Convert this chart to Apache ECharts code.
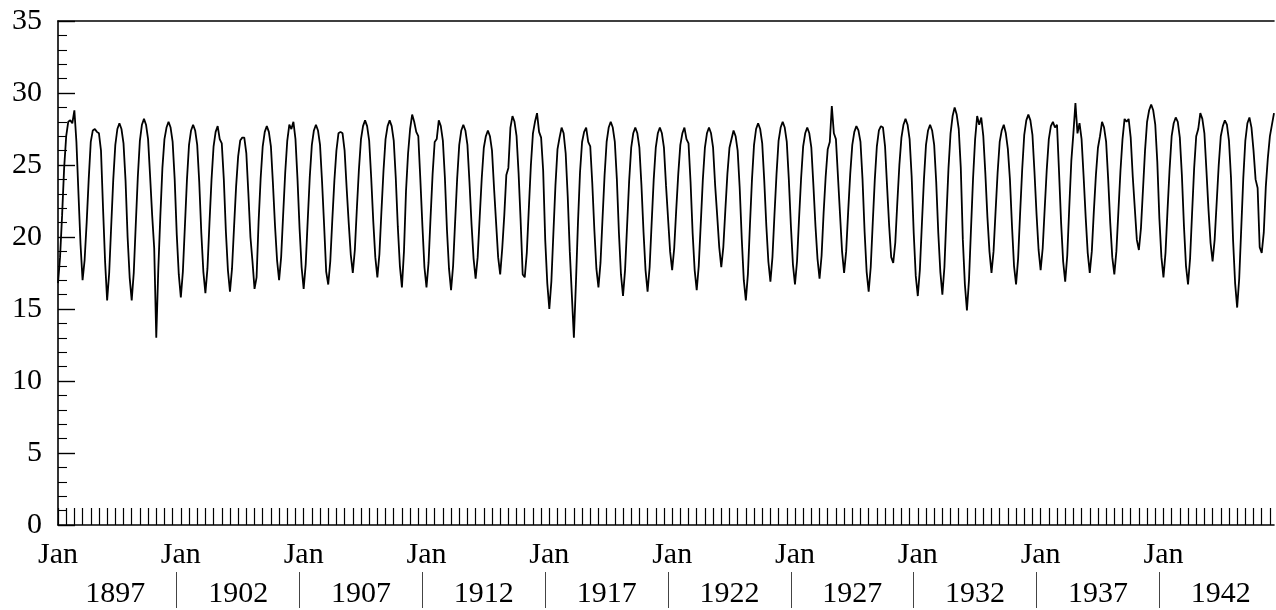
<!DOCTYPE html>
<html><head><meta charset="utf-8">
<script src="https://cdn.jsdelivr.net/npm/echarts@6/dist/echarts.min.js"></script>
<style>html,body{margin:0;padding:0;background:#fff}#c{width:1276px;height:610px}</style>
</head><body><div id="c"></div>
<script>
// Monthly values, Jan 1897 .. Jul 1946
const temps1897to1906 = [
  16.8, 18.6, 21.5, 24.8, 27.0, 28.0, 28.1, 27.9, 28.8, 26.6, 23.0, 19.5,
  17.0, 18.4, 21.0, 24.0, 26.6, 27.4, 27.5, 27.3, 27.2, 26.0, 22.0, 18.3,
  15.6, 17.5, 20.8, 24.0, 26.4, 27.5, 27.9, 27.5, 26.5, 23.9, 20.0, 17.2,
  15.6, 17.5, 20.9, 24.2, 26.7, 27.8, 28.2, 27.8, 26.8, 24.2, 21.5, 19.2,
  13.0, 17.8, 21.5, 24.8, 26.8, 27.6, 28.0, 27.6, 26.6, 24.0, 20.2, 17.4,
  15.8, 17.6, 20.8, 24.0, 26.4, 27.4, 27.8, 27.4, 26.4, 23.8, 20.3, 17.6,
  16.1, 17.8, 21.0, 24.0, 26.3, 27.3, 27.7, 26.8, 26.5, 24.0, 20.4, 17.7,
  16.2, 17.8, 20.7, 23.5, 25.6, 26.7, 26.9, 26.9, 25.8, 23.0, 20.0, 18.3,
  16.4, 17.2, 21.1, 24.1, 26.3, 27.3, 27.7, 27.3, 26.3, 23.7, 20.8, 18.4,
  17.0, 18.6, 21.6, 24.5, 26.7, 27.8, 27.5, 28.0, 26.8, 24.0, 20.6, 17.9
];
const temps1907to1916 = [
  16.4, 18.1, 21.2, 24.2, 26.4, 27.4, 27.8, 27.4, 26.4, 23.8, 20.8, 17.6,
  16.7, 18.3, 21.2, 23.9, 26.0, 27.2, 27.3, 27.2, 26.0, 23.4, 21.0, 18.8,
  17.5, 19.1, 22.0, 24.7, 26.8, 27.7, 28.1, 27.7, 26.7, 24.1, 21.1, 18.6,
  17.2, 18.8, 21.8, 24.6, 26.8, 27.7, 28.1, 27.7, 26.7, 24.1, 20.7, 18.0,
  16.5, 19.0, 23.2, 25.8, 27.5, 28.5, 28.0, 27.3, 27.0, 24.0, 20.8, 17.9,
  16.5, 18.2, 21.4, 24.4, 26.6, 26.8, 28.1, 27.7, 26.7, 24.1, 20.5, 17.8,
  16.3, 18.0, 21.1, 24.1, 26.4, 27.4, 27.8, 27.4, 26.4, 23.8, 20.9, 18.5,
  17.1, 18.6, 21.4, 24.1, 26.2, 27.0, 27.4, 27.0, 26.0, 23.4, 21.0, 18.6,
  17.4, 19.2, 21.5, 24.3, 24.8, 27.6, 28.4, 28.0, 27.0, 24.4, 21.1, 17.4,
  17.2, 18.9, 22.0, 25.0, 27.2, 28.0, 28.6, 27.3, 26.9, 24.6, 19.8, 16.8
];
const temps1917to1926 = [
  15.0, 16.9, 20.3, 23.6, 26.1, 26.9, 27.6, 27.2, 25.8, 22.8, 19.0, 16.0,
  13.0, 16.8, 21.0, 24.5, 26.6, 27.3, 27.6, 26.6, 26.3, 23.7, 20.5, 17.8,
  16.5, 18.2, 21.3, 24.3, 26.6, 27.6, 28.0, 27.6, 26.6, 24.0, 20.3, 17.4,
  15.9, 17.7, 20.8, 23.9, 26.2, 27.2, 27.6, 27.2, 26.2, 23.6, 20.4, 17.7,
  16.2, 17.9, 21.0, 24.0, 26.2, 27.2, 27.6, 27.2, 26.2, 23.6, 21.3, 19.0,
  17.7, 19.2, 21.9, 24.4, 26.4, 27.2, 27.6, 26.8, 26.5, 23.8, 20.3, 17.7,
  16.3, 18.0, 21.0, 24.0, 26.2, 27.2, 27.6, 27.2, 26.2, 23.6, 21.5, 19.3,
  17.9, 19.3, 21.9, 24.4, 26.2, 26.8, 27.4, 27.0, 26.0, 23.4, 19.9, 17.0,
  15.6, 17.4, 20.8, 24.0, 26.4, 27.5, 27.9, 27.5, 26.5, 23.9, 20.8, 18.3,
  16.9, 18.6, 21.6, 24.4, 26.7, 27.6, 28.0, 27.6, 26.6, 24.0, 20.8, 18.1
];
const temps1927to1936 = [
  16.7, 18.3, 21.3, 24.1, 26.3, 27.2, 27.6, 27.2, 26.2, 23.6, 20.8, 18.5,
  17.1, 18.7, 21.7, 24.2, 26.1, 26.6, 29.1, 27.2, 26.8, 24.2, 21.6, 19.0,
  17.5, 19.0, 21.8, 24.4, 26.4, 27.3, 27.7, 27.4, 26.6, 24.0, 20.4, 17.6,
  16.2, 17.9, 21.0, 24.0, 26.3, 27.4, 27.7, 27.6, 26.3, 23.5, 20.8, 18.6,
  18.2, 19.6, 22.4, 25.0, 26.9, 27.8, 28.2, 27.8, 26.8, 24.2, 20.3, 17.3,
  15.9, 17.7, 20.9, 24.0, 26.4, 27.4, 27.8, 27.4, 26.4, 23.8, 20.3, 17.6,
  16.0, 17.9, 21.5, 24.8, 27.2, 28.4, 29.0, 28.5, 27.5, 24.8, 19.8, 16.7,
  14.9, 17.0, 20.6, 24.1, 26.8, 28.4, 27.8, 28.3, 27.0, 24.4, 21.4, 19.0,
  17.5, 19.0, 21.8, 24.5, 26.6, 27.4, 27.8, 27.2, 26.1, 24.0, 20.8, 18.0,
  16.7, 18.5, 21.7, 24.7, 27.1, 28.1, 28.5, 28.1, 27.1, 24.5, 21.6, 19.1
];
const temps1937to1946 = [
  17.7, 19.2, 22.0, 24.7, 26.8, 27.7, 28.0, 27.6, 27.8, 24.5, 21.0, 18.3,
  16.9, 18.7, 22.1, 25.3, 27.2, 29.3, 27.2, 27.9, 26.8, 24.2, 21.4, 18.9,
  17.5, 19.0, 21.8, 24.3, 26.2, 27.0, 28.0, 27.6, 26.6, 24.0, 21.0, 18.6,
  17.4, 19.0, 21.8, 24.6, 26.8, 28.2, 28.0, 28.2, 26.9, 24.2, 22.0, 19.8,
  19.1, 20.6, 23.3, 26.0, 28.0, 28.8, 29.2, 28.8, 27.8, 25.2, 21.3, 18.6,
  17.2, 18.9, 21.9, 24.7, 27.0, 27.9, 28.3, 28.0, 26.9, 24.3, 20.8, 18.0,
  16.7, 18.5, 21.7, 24.8, 27.0, 27.5, 28.6, 28.2, 27.2, 24.6, 21.9, 19.6,
  18.3, 19.8, 22.4, 25.0, 27.0, 27.7, 28.1, 27.8, 26.7, 24.1, 19.8, 16.8,
  15.1, 17.1, 20.6, 24.1, 26.7, 27.9, 28.3, 27.6, 26.0, 24.0, 23.4, 19.3,
  18.9, 20.3, 23.5, 25.5, 27.0, 27.8, 28.6
];
const monthLabel = 'Jan';
const yearLabels = ['1897', '1902', '1907', '1912', '1917', '1922', '1927', '1932', '1937', '1942'];

const temps = [].concat(temps1897to1906, temps1907to1916, temps1917to1926, temps1927to1936, temps1937to1946);
const seriesData = temps.map((v, i) => [i, v]);
const lastMonth = temps.length - 1;
const blockMonths = 60;
const janTicks = yearLabels.map((_, i) => i * blockMonths);
const smallTicks = [];
for (let m = 0; m <= lastMonth; m += 4) smallTicks.push(m);
const sepTicks = yearLabels.slice(1).map((_, i) => (i + 1) * blockMonths - 2);
const yearLabelPos = yearLabels.map((_, i) => i * blockMonths + 28);

const FONT = '"Liberation Serif", "DejaVu Serif", serif';
const chart = echarts.init(document.getElementById('c'), null, {renderer: 'canvas'});
chart.setOption({
  animation: false,
  backgroundColor: '#fff',
  grid: {left: 58, top: 21, width: 1216, height: 504, containLabel: false},
  xAxis: [
    {
      type: 'value', min: 0, max: lastMonth, position: 'bottom',
      axisLine: {show: true, lineStyle: {color: '#000', width: 1.6}},
      axisTick: {show: true, inside: true, length: 17, customValues: smallTicks, lineStyle: {color: '#000', width: 1.2}},
      axisLabel: {show: true, customValues: janTicks, formatter: () => monthLabel, margin: 15,
        color: '#000', fontFamily: FONT, fontSize: 30},
      splitLine: {show: false}
    },
    {
      type: 'value', min: 0, max: lastMonth, position: 'top',
      axisLine: {show: true, lineStyle: {color: '#000', width: 1.6}},
      axisTick: {show: false}, axisLabel: {show: false}, splitLine: {show: false}
    },
    {
      type: 'value', min: 0, max: lastMonth, position: 'bottom', offset: 47,
      axisLine: {show: false},
      axisTick: {show: true, customValues: sepTicks, length: 36, lineStyle: {color: '#444', width: 1}},
      axisLabel: {show: true, customValues: yearLabelPos,
        formatter: v => yearLabels[Math.round((v - 28) / blockMonths)],
        margin: 7, color: '#000', fontFamily: FONT, fontSize: 30},
      splitLine: {show: false}
    }
  ],
  yAxis: {
    type: 'value', min: 0, max: 35, interval: 5,
    axisLine: {show: true, lineStyle: {color: '#000', width: 1.6}},
    axisTick: {show: true, inside: true, length: 17, lineStyle: {color: '#000', width: 1.4}},
    minorTick: {show: true, splitNumber: 5, length: 9, lineStyle: {color: '#000', width: 1.1}},
    axisLabel: {color: '#000', fontFamily: FONT, fontSize: 30, margin: 16},
    splitLine: {show: false}
  },
  series: [{
    type: 'line', xAxisIndex: 0, data: seriesData, showSymbol: false, symbol: 'none',
    lineStyle: {color: '#000', width: 1.8}
  }]
});
</script>
</body></html>
